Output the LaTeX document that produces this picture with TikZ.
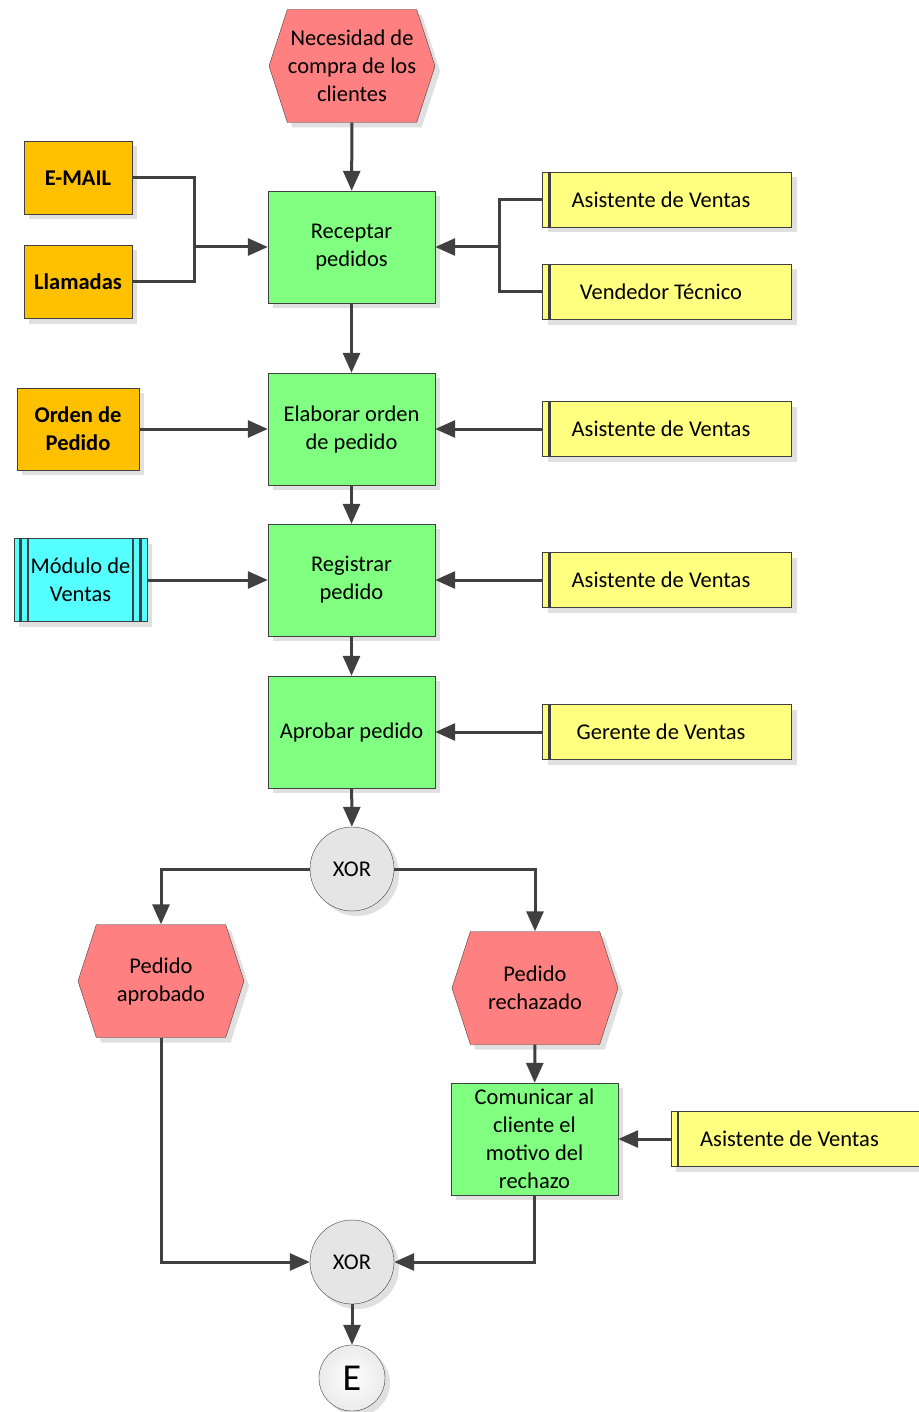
\documentclass[tikz,border=0pt]{standalone}
\usepackage{fontspec}
\setmainfont{Carlito}
\usetikzlibrary{shapes.symbols, shapes.geometric, arrows.meta, positioning, shadows}

\definecolor{funcgreen}{HTML}{80FF80}
\definecolor{eventred}{HTML}{FF8080}
\definecolor{docorange}{HTML}{FFC000}
\definecolor{roleyellow}{HTML}{FFFF80}
\definecolor{syscyan}{HTML}{55FFFF}
\definecolor{linegray}{HTML}{404040}

\tikzstyle{boxshadow} = [drop shadow={shadow xshift=5pt, shadow yshift=-5pt, fill=black!12, opacity=1}]
\tikzstyle{event} = [signal, signal to=east and west, signal pointer angle=144, minimum width=166pt, minimum height=113pt, inner sep=0pt, align=center, draw=linegray, fill=eventred, boxshadow]
\tikzstyle{process} = [rectangle, minimum width=167pt, minimum height=112pt, align=center, draw=linegray, fill=funcgreen, boxshadow]
\tikzstyle{docbox} = [rectangle, minimum width=108pt, minimum height=73pt, inner sep=0pt, align=center, draw=linegray, fill=docorange, font=\fontsize{22.5}{28}\selectfont\bfseries, boxshadow]
\tikzstyle{rolebox} = [rectangle, minimum width=249pt, minimum height=55pt, align=center, draw=linegray, fill=roleyellow, boxshadow,
  execute at end node=\hspace*{12pt},
  path picture={\draw[linegray, line width=2.5pt] ([xshift=7pt]path picture bounding box.north west) -- ([xshift=7pt]path picture bounding box.south west);}]
\tikzstyle{sysbox} = [rectangle, minimum width=133pt, minimum height=83pt, inner sep=0pt, align=center, draw=linegray, fill=syscyan, boxshadow,
  path picture={
    \foreach \dx in {6.5pt, 14pt} {
      \draw[linegray, line width=2.5pt] ([xshift=\dx]path picture bounding box.north west) -- ([xshift=\dx]path picture bounding box.south west);
      \draw[linegray, line width=2.5pt] ([xshift=-\dx]path picture bounding box.north east) -- ([xshift=-\dx]path picture bounding box.south east);
    }}]
\tikzstyle{gate} = [circle, minimum size=84pt, inner sep=0pt, draw=linegray, fill=black!10, boxshadow]
\tikzstyle{endnode} = [circle, minimum size=66pt, inner sep=0pt, draw=linegray, inner color=white, outer color=black!8, boxshadow, font=\fontsize{38}{38}\selectfont]
\tikzstyle{line} = [line width=3pt, draw=linegray]
\tikzstyle{arrow} = [line, -{Triangle[length=20pt,width=17pt]}]

\begin{document}
\begin{tikzpicture}[x=1pt, y=-1pt, every node/.style={font=\fontsize{22.5}{28}\selectfont}]

\useasboundingbox (0,0) rectangle (918,1412);

% main column
\node (necesidad) [event] at (352,66) {Necesidad de\\compra de los\\clientes};
\node (receptar) [process] at (351.5,247) {Receptar\\pedidos};
\node (elaborar) [process] at (351.5,429) {Elaborar orden\\de pedido};
\node (registrar) [process] at (351.5,580) {Registrar\\pedido};
\node (aprobar) [process] at (351.5,732) {Aprobar pedido};
\node (xorsplit) [gate] at (352,869) {XOR};

% inputs on the left
\node (email) [docbox] at (78,178) {E-MAIL};
\node (llamadas) [docbox] at (78,282) {Llamadas};
\node (orden) [docbox, minimum width=122pt, minimum height=82pt] at (78,429) {Orden de\\Pedido};
\node (modulo) [sysbox] at (80.5,580) {Módulo de\\Ventas};

% roles on the right
\node (asistA) [rolebox] at (667,200) {Asistente de Ventas};
\node (vendedor) [rolebox] at (667,292) {Vendedor Técnico};
\node (asistB) [rolebox] at (667,429) {Asistente de Ventas};
\node (asistC) [rolebox] at (667,580) {Asistente de Ventas};
\node (gerente) [rolebox] at (667,732) {Gerente de Ventas};

% the two outcomes
\node (aprobado) [event] at (161,981) {Pedido\\aprobado};
\node (rechazado) [event] at (535,988) {Pedido\\rechazado};
\node (comunicar) [process] at (534.5,1139) {Comunicar al\\cliente el\\motivo del\\rechazo};
\node (asistD) [rolebox] at (795.5,1139) {Asistente de Ventas};
\node (xorjoin) [gate] at (352,1262) {XOR};
\node (fin) [endnode] at (352,1378) {E};

\coordinate (jleft) at (194,247);
\coordinate (jright) at (499,247);

\draw [arrow] (necesidad) -- (receptar);
\draw [line] (email) -| (jleft);
\draw [line] (llamadas) -| (jleft);
\draw [arrow] (jleft) -- (receptar);
\draw [line] (asistA) -| (jright);
\draw [line] (vendedor) -| (jright);
\draw [arrow] (jright) -- (receptar);

\draw [arrow] (receptar) -- (elaborar);
\draw [arrow] (orden) -- (elaborar);
\draw [arrow] (asistB) -- (elaborar);

\draw [arrow] (elaborar) -- (registrar);
\draw [arrow] (modulo) -- (registrar);
\draw [arrow] (asistC) -- (registrar);

\draw [arrow] (registrar) -- (aprobar);
\draw [arrow] (gerente) -- (aprobar);
\draw [arrow] (aprobar) -- (xorsplit);

\draw [arrow] (xorsplit) -| (aprobado);
\draw [arrow] (xorsplit) -| (rechazado);
\draw [arrow] (rechazado) -- (comunicar);
\draw [arrow] (asistD) -- (comunicar);
\draw [arrow] (aprobado) |- (xorjoin);
\draw [arrow] (comunicar) |- (xorjoin);
\draw [arrow] (xorjoin) -- (fin);

\end{tikzpicture}
\end{document}
